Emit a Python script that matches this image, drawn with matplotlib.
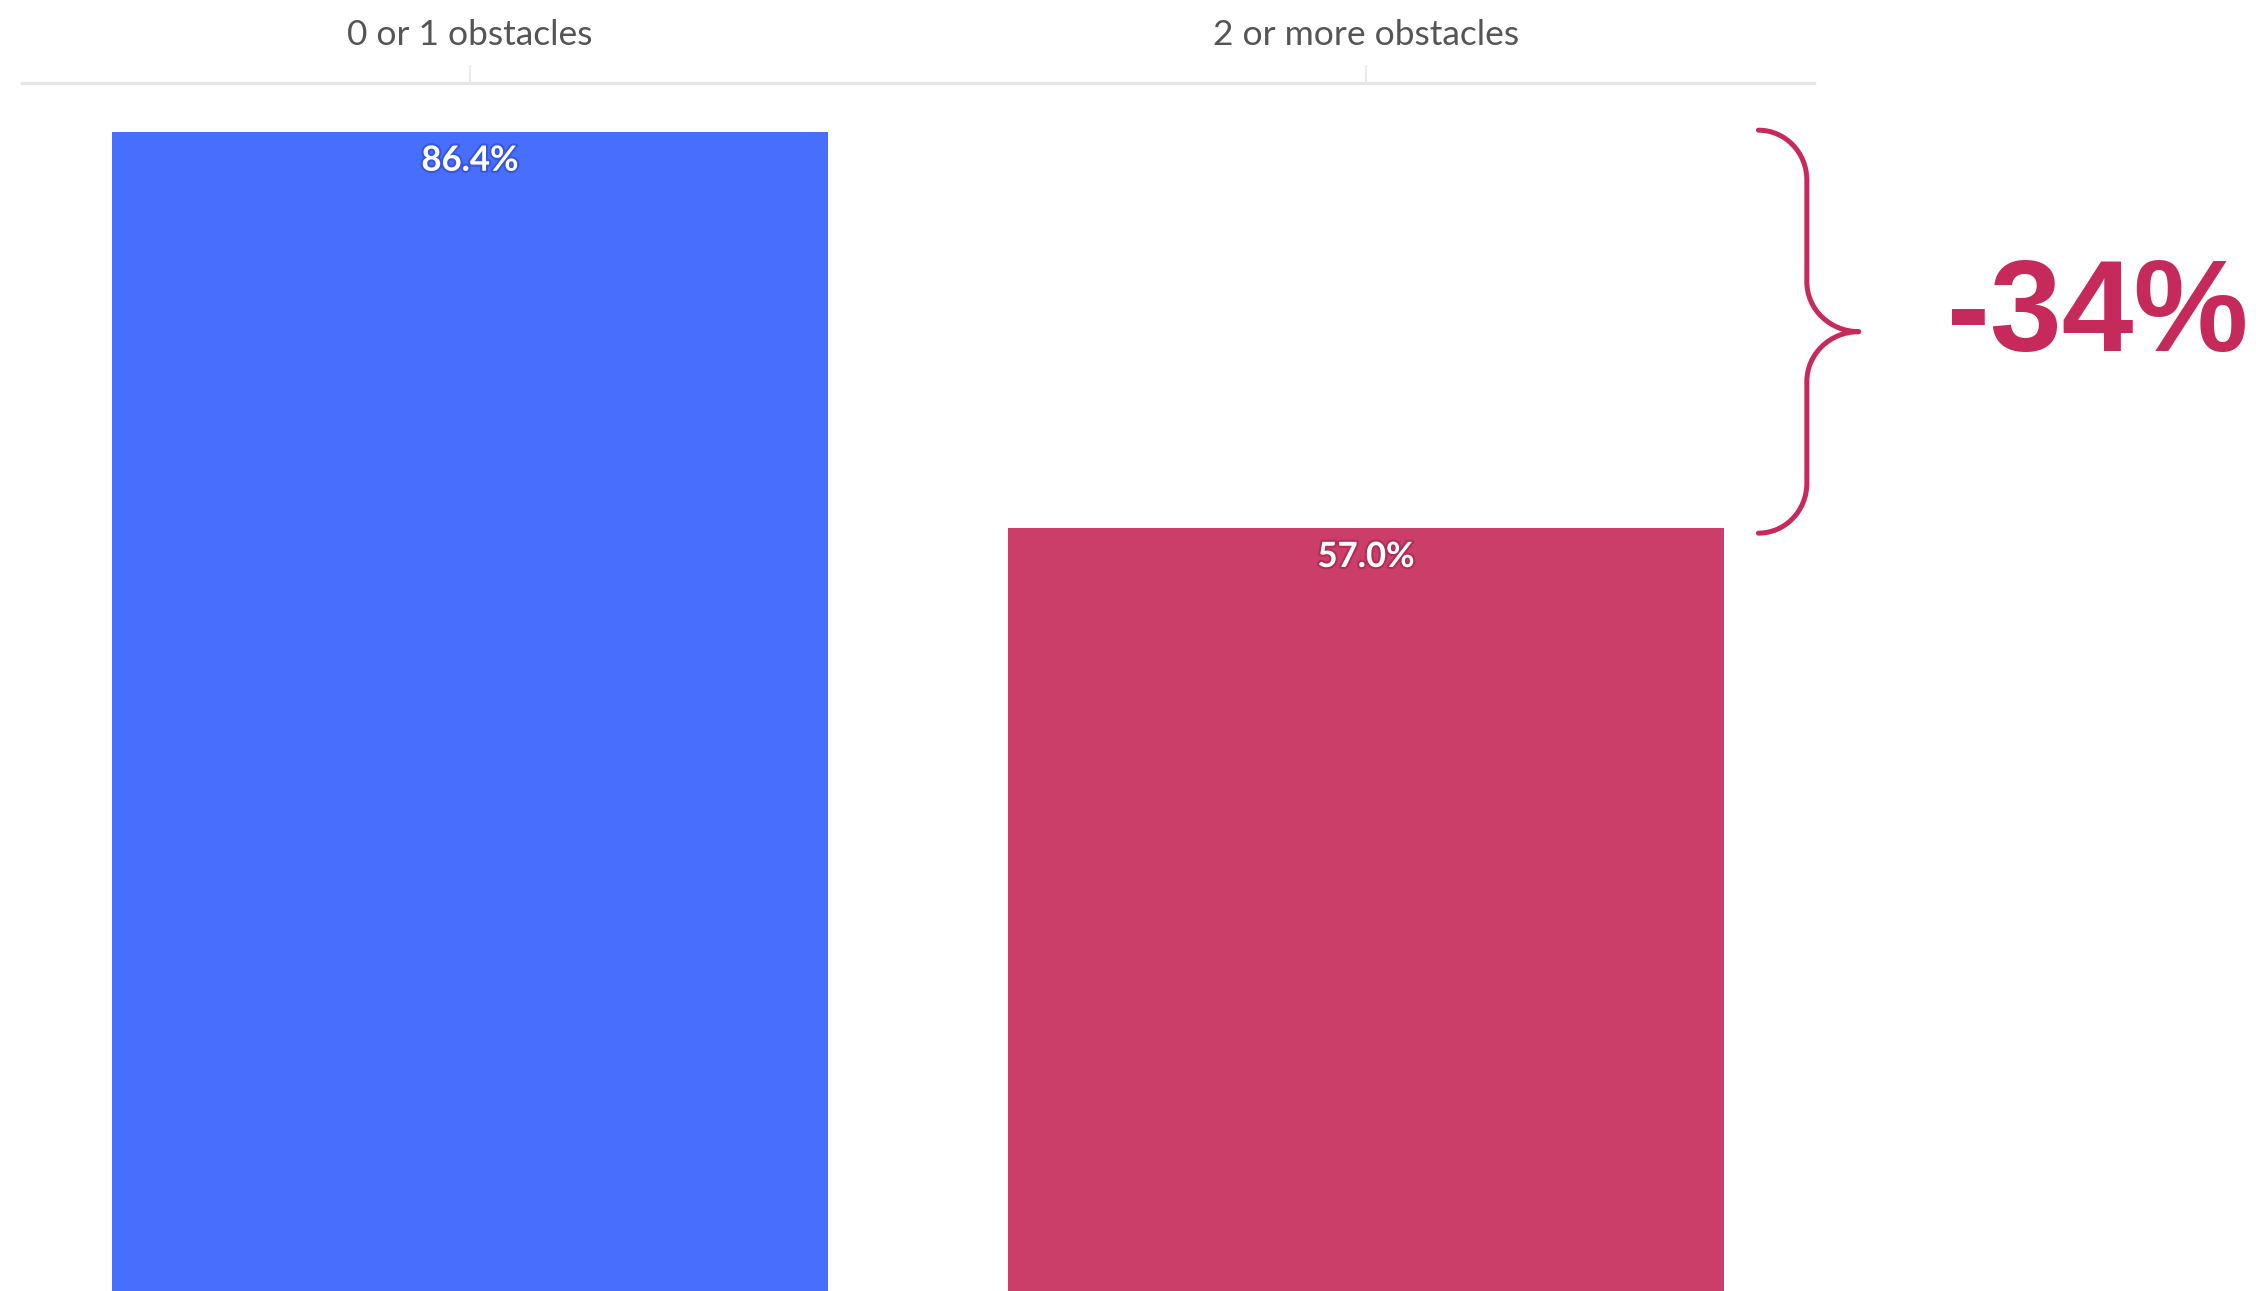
import matplotlib
matplotlib.use("Agg")
import matplotlib.pyplot as plt
from matplotlib.path import Path
from matplotlib.patches import PathPatch
import matplotlib.patheffects as pe

categories = ["0 or 1 obstacles", "2 or more obstacles"]
values = [86.4, 57.0]
bar_colors = ["#486EFD", "#CC3E6A"]
glow_colors = ["#2A46C8", "#9E2248"]

W, H, DPI = 2256, 1291, 100
fig = plt.figure(figsize=(W / DPI, H / DPI), dpi=DPI)
fig.patch.set_facecolor("white")

top_px, bot_px = 83, 1296
left_px, right_px = 22, 1814
ax = fig.add_axes([left_px / W, (H - bot_px) / H,
                   (right_px - left_px) / W, (bot_px - top_px) / H])

x = list(range(len(categories)))
ax.bar(x, values, width=0.8, color=bar_colors, zorder=2)
ax.set_xlim(-0.5, 1.5)
ax.set_ylim(0, 90)

for s in ["left", "right", "bottom"]:
    ax.spines[s].set_visible(False)
ax.spines["top"].set_color("#E6E6E6")
ax.spines["top"].set_linewidth(2.4)
ax.xaxis.tick_top()
ax.set_xticks(x)
ax.set_xticklabels(categories, fontsize=25.5, color="#555555", family="Lato")
ax.tick_params(axis="x", direction="out", length=13, width=1.2, color="#E6E6E6", pad=10)
ax.set_yticks([])

for xi, v, gc in zip(x, values, glow_colors):
    t = ax.annotate(f"{v:.1f}%", xy=(xi, v), xytext=(0, -21), textcoords="offset points",
                    ha="center", va="center", color="white", fontsize=25,
                    fontweight="bold", family="Lato")
    t.set_path_effects([pe.withStroke(linewidth=3, foreground=gc, alpha=0.6)])

# brace from top of the higher bar to top of the lower bar
hi, lo = values[0], values[1]
ytop, ybot = hi + 0.1, lo - 0.4
ymid = (ytop + ybot) / 2
x0, xv, xt = 1.438, 1.492, 1.550
r = 3.7   # vertical extent of the curved parts (data units)
k = 0.5523
verts = [
    (x0, ytop),
    (x0 + k * (xv - x0), ytop), (xv, ytop - r + k * r), (xv, ytop - r),
    (xv, ymid + r),
    (xv, ymid + r - k * r), (xt - k * (xt - xv), ymid), (xt, ymid),
    (xt - k * (xt - xv), ymid), (xv, ymid - r + k * r), (xv, ymid - r),
    (xv, ybot + r),
    (xv, ybot + r - k * r), (x0 + k * (xv - x0), ybot), (x0, ybot),
]
codes = [Path.MOVETO,
         Path.CURVE4, Path.CURVE4, Path.CURVE4,
         Path.LINETO,
         Path.CURVE4, Path.CURVE4, Path.CURVE4,
         Path.CURVE4, Path.CURVE4, Path.CURVE4,
         Path.LINETO,
         Path.CURVE4, Path.CURVE4, Path.CURVE4]
brace = PathPatch(Path(verts, codes), facecolor="none", edgecolor="#C72A5A",
                  linewidth=3.6, capstyle="round", joinstyle="round", clip_on=False)
ax.add_patch(brace)

pct = (lo / hi - 1) * 100
ax.text(1.8166, ymid + 1.05, f"{pct:.0f}%", ha="center", va="center", color="#C62A5A",
        fontsize=93, fontweight="bold", family="Liberation Sans", clip_on=False)

fig.savefig("out.png", dpi=DPI, facecolor="white")
